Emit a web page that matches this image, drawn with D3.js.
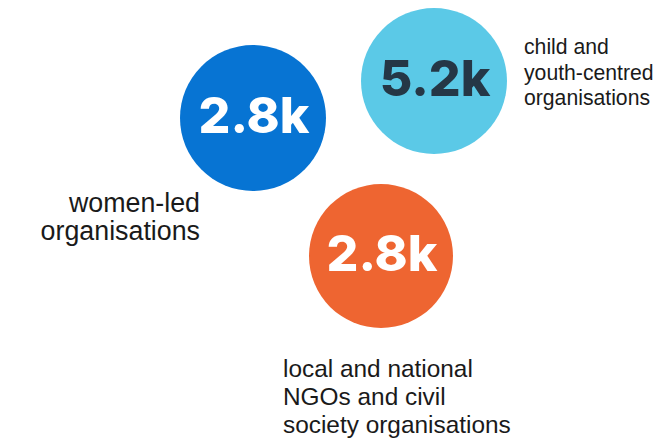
<!doctype html>
<html>
<head>
    <meta charset="utf-8">
    <title>organisations</title>
    <script src="https://d3js.org/d3.v7.min.js"></script>
    <style>
        body { margin: 0; background: #fff; }
        .value { font-family: Inter, sans-serif; font-weight: 800; }
        .label { font-family: "Liberation Sans", Arial, sans-serif; fill: #1a1a1a; }
    </style>
</head>
<body>
<script>

    // data
    var categories = ['women-led', 'child-youth', 'local-ngo'];
    var values = [2.8, 5.2, 2.8];   // thousands
    var labelLines = [
        ['women-led', 'organisations'],
        ['child and', 'youth-centred', 'organisations'],
        ['local and national', 'NGOs and civil', 'society organisations']
    ];

    // layout (positions / styles only)
    var width = 666, height = 440;
    var layout = {
        'women-led':   { cx: 253, cy: 118, r: 73, lx: 200, ly: 212, anchor: 'end',   size: 26.8, lh: 28 },
        'child-youth': { cx: 434, cy: 81,  r: 73, lx: 524, ly: 54,  anchor: 'start', size: 21.2, lh: 25.5 },
        'local-ngo':   { cx: 381, cy: 256, r: 72, lx: 283, ly: 377, anchor: 'start', size: 24.4, lh: 28 }
    };

    var fill = d3.scaleOrdinal()
                  .domain(categories)
                  .range(['#0774d3', '#5bc9e7', '#ee6531']);

    var textFill = d3.scaleOrdinal()
                  .domain(categories)
                  .range(['#ffffff', '#253746', '#ffffff']);

    var fmt = function(v) { return d3.format('.1f')(v) + 'k'; };

    var data = categories.map(function(c, i) {
        return { key: c, value: values[i], lines: labelLines[i] };
    });

    var svg = d3.select('body')
                  .append('svg')
                  .attr('width', width)
                  .attr('height', height);

    var g = svg.selectAll('g.bubble')
                  .data(data)
                  .enter()
                  .append('g')
                  .attr('class', 'bubble');

    // circles
    g.append('circle')
                  .attr('cx', function(d) { return layout[d.key].cx; })
                  .attr('cy', function(d) { return layout[d.key].cy; })
                  .attr('r', function(d) { return layout[d.key].r; })
                  .attr('fill', function(d) { return fill(d.key); });

    // big numbers
    g.append('text')
                  .attr('class', 'value')
                  .attr('x', function(d) { return layout[d.key].cx + 1; })
                  .attr('y', function(d) { return layout[d.key].cy + 15; })
                  .attr('text-anchor', 'middle')
                  .style('font-size', '50px')
                  .attr('fill', function(d) { return textFill(d.key); })
                  .text(function(d) { return fmt(d.value); });

    // labels
    g.append('text')
                  .attr('class', 'label')
                  .attr('text-anchor', function(d) { return layout[d.key].anchor; })
                  .style('font-size', function(d) { return layout[d.key].size + 'px'; })
                  .selectAll('tspan')
                  .data(function(d) {
                      return d.lines.map(function(t, i) { return { t: t, i: i, l: layout[d.key] }; });
                  })
                  .enter()
                  .append('tspan')
                  .attr('x', function(d) { return d.l.lx; })
                  .attr('y', function(d) { return d.l.ly + d.i * d.l.lh; })
                  .text(function(d) { return d.t; });

</script>
</body>
</html>
